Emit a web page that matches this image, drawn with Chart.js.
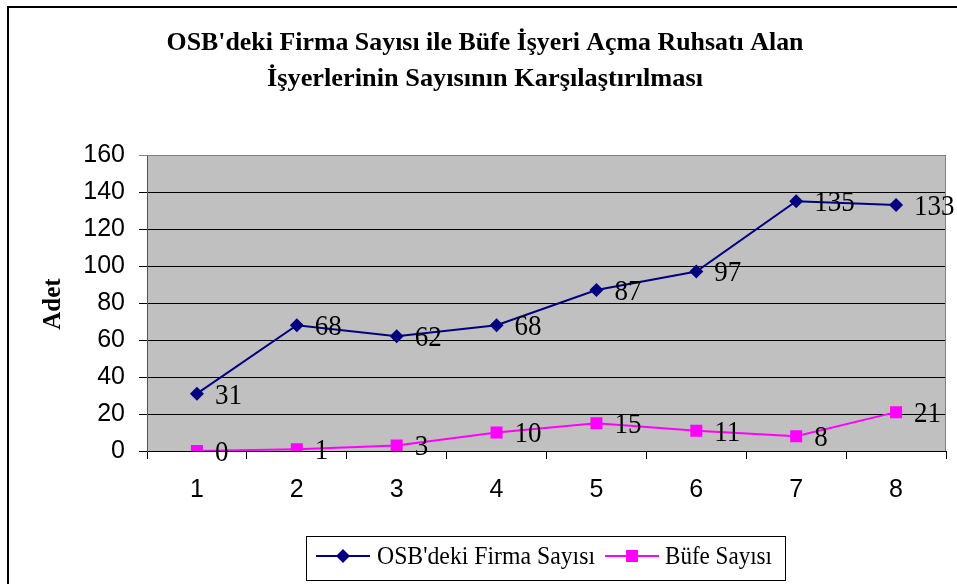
<!DOCTYPE html>
<html>
<head>
<meta charset="utf-8">
<script src="https://cdn.jsdelivr.net/npm/chart.js@4/dist/chart.umd.min.js"></script>
<style>
  html, body { margin: 0; padding: 0; background: #fff; }
  #wrap { width: 957px; height: 584px; }
</style>
</head>
<body>
<div id="wrap"><canvas id="chart"></canvas></div>
<script>
// data
var categories = ['1', '2', '3', '4', '5', '6', '7', '8'];
var firmaSayisi = [31, 68, 62, 68, 87, 97, 135, 133];
var bufeSayisi = [0, 1, 3, 10, 15, 11, 8, 21];
var seriesNames = ["OSB'deki Firma Sayısı", 'Büfe Sayısı'];
var titleLines = ["OSB'deki Firma Sayısı ile Büfe İşyeri Açma Ruhsatı Alan", 'İşyerlerinin Sayısının Karşılaştırılması'];
var yTitle = 'Adet';

var SERIF = '"Liberation Serif", "Times New Roman", serif';
var SANS = '"Liberation Sans", Arial, sans-serif';

var decorPlugin = {
    id: 'decor',
    beforeDraw: function(chart) {
        var ctx = chart.ctx, a = chart.chartArea;
        ctx.save();
        ctx.fillStyle = '#fff';
        ctx.fillRect(0, 0, chart.width, chart.height);
        ctx.fillStyle = '#c0c0c0';
        ctx.fillRect(a.left, a.top, a.right - a.left, a.bottom - a.top);
        ctx.restore();
    },
    afterDatasetsDraw: function(chart) {
        var ctx = chart.ctx, a = chart.chartArea;
        ctx.save();

        // plot area border (top/right grey)
        ctx.strokeStyle = '#808080';
        ctx.lineWidth = 1;
        ctx.beginPath();
        ctx.moveTo(a.left, a.top + 0.5);
        ctx.lineTo(a.right - 0.5, a.top + 0.5);
        ctx.lineTo(a.right - 0.5, a.bottom);
        ctx.stroke();

        // value labels (slightly narrow serif like the original)
        ctx.fillStyle = '#000';
        ctx.font = '30px ' + SERIF;
        ctx.textAlign = 'left';
        ctx.textBaseline = 'middle';
        chart.data.datasets.forEach(function(ds, i) {
            chart.getDatasetMeta(i).data.forEach(function(pt, j) {
                ctx.save();
                ctx.translate(pt.x + 18, pt.y + 2);
                ctx.scale(0.9, 1);
                ctx.fillText(String(ds.data[j]), 0, 0);
                ctx.restore();
            });
        });

        // title
        ctx.font = 'bold 26px ' + SERIF;
        ctx.textAlign = 'center';
        ctx.textBaseline = 'alphabetic';
        var widths = [637, 436];
        var baselines = [50, 86];
        titleLines.forEach(function(t, k) {
            var w = ctx.measureText(t).width;
            ctx.save();
            ctx.translate(485, baselines[k]);
            ctx.scale(widths[k] / w, 1);
            ctx.fillText(t, 0, 0);
            ctx.restore();
        });

        // y axis title
        ctx.save();
        ctx.translate(60, 304);
        ctx.rotate(-Math.PI / 2);
        ctx.font = 'bold 25px ' + SERIF;
        ctx.textAlign = 'center';
        ctx.fillText(yTitle, 0, 0);
        ctx.restore();

        // legend
        ctx.strokeStyle = '#000';
        ctx.lineWidth = 1;
        ctx.strokeRect(306.5, 536.5, 479, 44);
        var ly = 556;
        ctx.font = '25px ' + SERIF;
        ctx.textAlign = 'left';
        ctx.textBaseline = 'middle';
        var items = [
            { x: 316, textX: 377, w: 218, ds: chart.data.datasets[0] },
            { x: 605, textX: 665, w: 107, ds: chart.data.datasets[1] }
        ];
        items.forEach(function(it) {
            ctx.strokeStyle = it.ds.borderColor;
            ctx.lineWidth = 2;
            ctx.beginPath();
            ctx.moveTo(it.x, ly);
            ctx.lineTo(it.x + 54, ly);
            ctx.stroke();
            ctx.fillStyle = it.ds.backgroundColor;
            Chart.helpers.drawPoint(ctx, {
                pointStyle: it.ds.pointStyle,
                radius: it.ds.pointRadius,
                borderWidth: 0
            }, it.x + 27, ly);
            ctx.fillStyle = '#000';
            var tw = ctx.measureText(it.ds.label).width;
            ctx.save();
            ctx.translate(it.textX, ly + 1);
            ctx.scale(it.w / tw, 1);
            ctx.fillText(it.ds.label, 0, 0);
            ctx.restore();
        });

        // outer frame (only left/top visible)
        ctx.strokeStyle = '#000';
        ctx.lineWidth = 2;
        ctx.strokeRect(8, 7, 1000, 1000);
        ctx.restore();
    }
};

new Chart(document.getElementById('chart'), {
    type: 'line',
    data: {
        labels: categories,
        datasets: [
            {
                label: seriesNames[0],
                data: firmaSayisi,
                borderColor: '#000080',
                backgroundColor: '#000080',
                borderWidth: 2,
                pointStyle: 'rectRot',
                pointRadius: 7,
                pointBorderWidth: 0,
                tension: 0
            },
            {
                label: seriesNames[1],
                data: bufeSayisi,
                borderColor: '#ff00ff',
                backgroundColor: '#ff00ff',
                borderWidth: 2,
                pointStyle: 'rect',
                pointRadius: 8.5,
                pointBorderWidth: 0,
                tension: 0
            }
        ]
    },
    options: {
        responsive: true,
        maintainAspectRatio: false,
        animation: false,
        layout: { padding: { top: 155, right: 11, bottom: 83, left: 0 } },
        plugins: {
            legend: { display: false },
            title: { display: false },
            tooltip: { enabled: false }
        },
        scales: {
            x: {
                offset: true,
                grid: { offset: true, drawOnChartArea: false, tickLength: 8, color: '#000' },
                border: { color: '#000' },
                ticks: { color: '#000', font: { family: SANS, size: 25 }, padding: 16, maxRotation: 0 },
                afterFit: function(s) { s.height = 50; }
            },
            y: {
                min: 0,
                max: 160,
                grid: {
                    tickLength: 8,
                    color: function(c) { return c.tick && c.tick.value === 160 ? '#808080' : '#000'; }
                },
                border: { color: '#555' },
                ticks: { stepSize: 20, color: '#000', font: { family: SANS, size: 25 }, padding: 14 },
                afterFit: function(s) { s.width = 147; }
            }
        }
    },
    plugins: [decorPlugin]
});
</script>
</body>
</html>
